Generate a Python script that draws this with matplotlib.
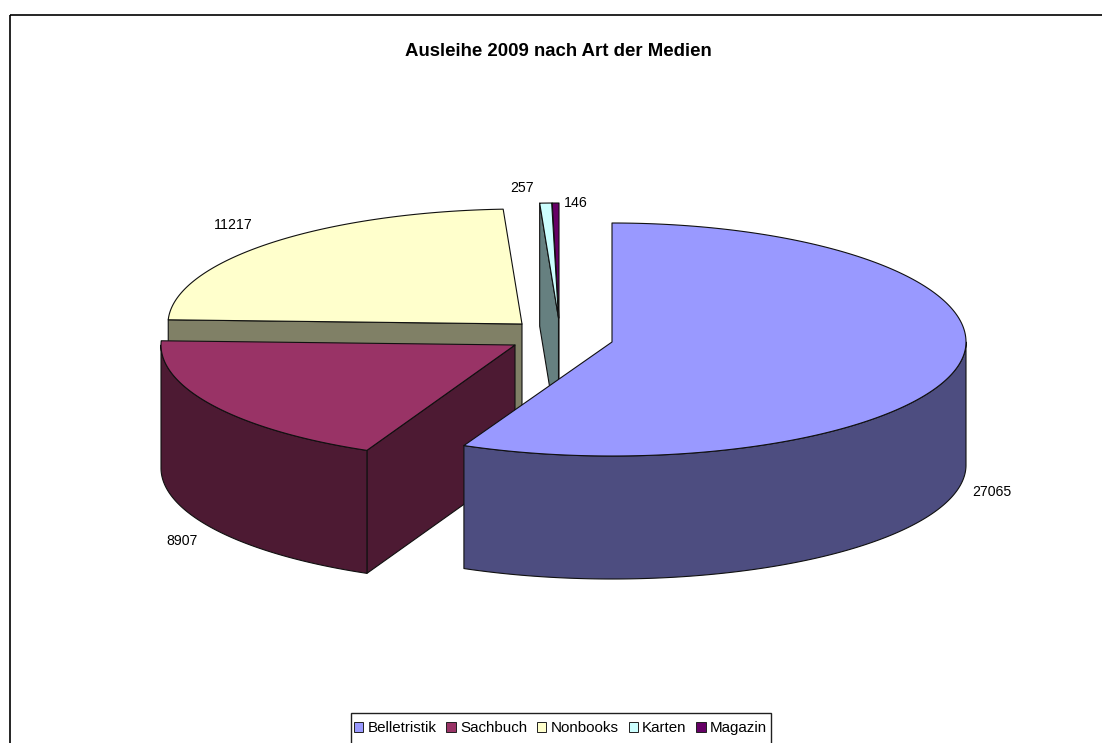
import numpy as np
import matplotlib
matplotlib.use("Agg")
import matplotlib.pyplot as plt
from matplotlib.patches import Polygon, Rectangle, Patch

categories = ["Belletristik", "Sachbuch", "Nonbooks", "Karten", "Magazin"]
values = [27065, 8907, 11217, 257, 146]

TOP_COLORS = ["#9999FF", "#993366", "#FFFFCC", "#CCFFFF", "#660066"]
WALL_COLORS = ["#4D4D80", "#4D1A33", "#808066", "#668080", "#330033"]

# exploded 3-D layout (figure pixels)
CENTERS = [(612, 342), (515, 345), (522, 324), (558.5, 318), (559, 318)]
RY_BACK = [119, 115, 115, 115, 115]
RY_FRONT = [114, 116, 114, 114, 114]
RX, DEPTH = 354, 123
LABEL_POS = [(992, 492), (182, 541), (233, 225), (522, 188), (576, 203)]
DRAW_ORDER = [2, 4, 3, 1, 0]

plt.rcParams["font.family"] = ["Liberation Sans", "DejaVu Sans"]
fig = plt.figure(figsize=(11.02, 7.43), dpi=100, facecolor="white")
ax = fig.add_axes([0, 0, 1, 1])
ax.set_xlim(0, 1102)
ax.set_ylim(743, 0)
ax.axis("off")

total = sum(values)
edges = np.concatenate([[0], np.cumsum(values)]) / total * 360.0


def point(i, deg):
    cx, cy = CENTERS[i]
    a = np.radians(deg)
    ry = np.where(np.cos(a) > 0, RY_BACK[i], RY_FRONT[i])
    return np.column_stack([cx + RX * np.sin(a), cy - ry * np.cos(a)])


def poly(xy, fc, z):
    ax.add_patch(Polygon(xy, closed=True, facecolor=fc, edgecolor="#101010",
                         linewidth=0.8, joinstyle="round", zorder=z))


for z, i in enumerate(DRAW_ORDER):
    a0, a1 = edges[i], edges[i + 1]
    apex = np.array([CENTERS[i]], dtype=float)
    down = np.array([0, DEPTH])
    zbase = 10 + z * 3
    # radial wall on the counter-clockwise edge, seen when it faces the viewer
    if np.sin(np.radians(a0)) < -1e-6:
        p = point(i, a0)
        poly(np.vstack([p, apex, apex + down, p + down]), WALL_COLORS[i], zbase)
    # curved outer wall on the front half
    lo, hi = max(a0, 90), min(a1, 270)
    if hi > lo:
        arc = point(i, np.linspace(lo, hi, 200))
        poly(np.vstack([arc, (arc + down)[::-1]]), WALL_COLORS[i], zbase + 1)
    # top face
    arc = point(i, np.linspace(a0, a1, 300))
    poly(np.vstack([apex, arc]), TOP_COLORS[i], zbase + 2)

for (x, y), v in zip(LABEL_POS, values):
    ax.text(x, y, str(v), ha="center", va="center", fontsize=10.2,
            color="black", zorder=50)

ax.text(558.5, 52, "Ausleihe 2009 nach Art der Medien", ha="center", va="center",
        fontsize=13.4, fontweight="bold", color="black", zorder=50)

# chart frame, running off the right and bottom of the picture
ax.add_patch(Rectangle((9.5, 14.5), 1200, 800, facecolor="none",
                       edgecolor="black", linewidth=1.2, zorder=5))

# legend frame, running off the bottom of the picture
ax.add_patch(Rectangle((350.5, 712.5), 420, 60, facecolor="white",
                       edgecolor="#202020", linewidth=1.0, zorder=60))
handles = [Patch(facecolor=c, edgecolor="#202020", linewidth=0.7) for c in TOP_COLORS]
leg = ax.legend(handles, categories, ncol=5, frameon=False, fontsize=10.9,
                loc="upper left", bbox_to_anchor=(354 / 1102, 1 - 721 / 743),
                bbox_transform=fig.transFigure, borderpad=0, borderaxespad=0,
                handlelength=0.62, handleheight=0.62, handletextpad=0.28,
                columnspacing=0.65)
leg.set_zorder(70)

fig.savefig("out.png", dpi=100, facecolor="white")
